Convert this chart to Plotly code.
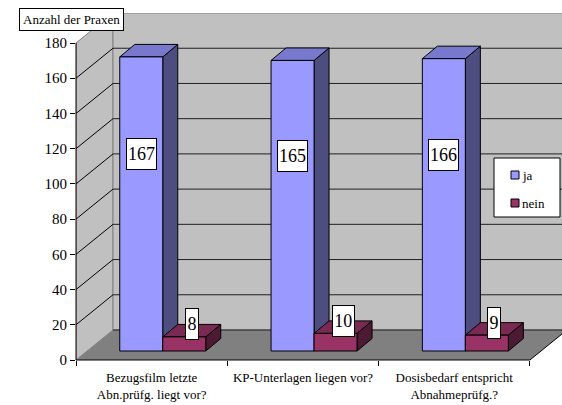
import plotly.graph_objects as go

# ---------------- data ----------------
categories = ["Bezugsfilm letzte<br>Abn.prüfg. liegt vor?",
              "KP-Unterlagen liegen vor?",
              "Dosisbedarf entspricht<br>Abnahmeprüfg.?"]
series_names = ["ja", "nein"]
ja_values = [167, 165, 166]
nein_values = [8, 10, 9]
y_ticks = [0, 20, 40, 60, 80, 100, 120, 140, 160, 180]
axis_title = "Anzahl der Praxen"

# ---------------- geometry / style ----------------
W, H = 562, 405
ML, MR, MT, MB = 76, 0, 13, 45
PW, PH = W - ML - MR, H - MT - MB
PX_PER_X = 151.3
PX_PER_Y = 1.761
DEPTH_X = 37 / PX_PER_X
DEPTH_Y = 30 / PX_PER_Y
x_max = PW / PX_PER_X
y_max = PH / PX_PER_Y
ncat = len(categories)
ytop = max(y_ticks)

BAR_W = 43 / PX_PER_X
BAR_POS = 0.3
bar_base = BAR_POS * DEPTH_Y
shift = BAR_POS * DEPTH_X
BAR_DX = 15 / PX_PER_X
BAR_DY = 12.5 / PX_PER_Y

FONT = "'Liberation Serif', 'Times New Roman', 'DejaVu Serif', serif"
colors = {
    "ja": {"front": "#9999FF", "top": "#7878CC", "side": "#4D4D80"},
    "nein": {"front": "#993366", "top": "#7A2952", "side": "#4D1A33"},
}
WALL = "#C0C0C0"
FLOOR = "#808080"


def xp(px):
    return (px - ML) / PW


def yp(py):
    return (H - MB - py) / PH


ja_x = [i + 0.5 + shift - BAR_W / 2 for i in range(ncat)]
nein_x = [i + 0.5 + shift + BAR_W / 2 for i in range(ncat)]

fig = go.Figure()
shapes = []
annotations = []

# ---- walls ----
shapes.append(dict(type="path", xref="x", yref="y", layer="below",
                   path=f"M 0,0 L 0,{ytop} L {DEPTH_X},{ytop + DEPTH_Y} L {DEPTH_X},{DEPTH_Y} Z",
                   fillcolor=WALL, line=dict(color="#808080", width=1)))
shapes.append(dict(type="rect", xref="x", yref="y", layer="below",
                   x0=DEPTH_X, y0=DEPTH_Y, x1=ncat + DEPTH_X, y1=ytop + DEPTH_Y,
                   fillcolor=WALL, line=dict(color="#808080", width=1)))
shapes.append(dict(type="path", xref="x", yref="y", layer="below",
                   path=f"M 0,0 L {ncat},0 L {ncat + DEPTH_X},{DEPTH_Y} L {DEPTH_X},{DEPTH_Y} Z",
                   fillcolor=FLOOR, line=dict(width=0)))
# gridlines on side and back wall
for v in y_ticks[:-1]:
    if v > 0:
        shapes.append(dict(type="line", xref="x", yref="y", layer="below",
                           x0=0, y0=v, x1=DEPTH_X, y1=v + DEPTH_Y,
                           line=dict(color="black", width=1)))
    shapes.append(dict(type="line", xref="x", yref="y", layer="below",
                       x0=DEPTH_X, y0=v + DEPTH_Y, x1=ncat + DEPTH_X, y1=v + DEPTH_Y,
                       line=dict(color="#202020", width=1)))
# floor right edge
shapes.append(dict(type="line", xref="x", yref="y", layer="below",
                   x0=ncat, y0=0, x1=ncat + DEPTH_X, y1=DEPTH_Y,
                   line=dict(color="black", width=1)))

# ---- bars: 3D side/top faces ----
for i in range(ncat):
    for name, xs, vals in (("ja", ja_x, ja_values), ("nein", nein_x, nein_values)):
        x0 = xs[i] - BAR_W / 2
        x1 = xs[i] + BAR_W / 2
        b = bar_base
        t = bar_base + vals[i]
        c = colors[name]
        shapes.append(dict(type="path", xref="x", yref="y", layer="between",
                           path=f"M {x1},{b} L {x1},{t} L {x1 + BAR_DX},{t + BAR_DY} L {x1 + BAR_DX},{b + BAR_DY} Z",
                           fillcolor=c["side"], line=dict(color="black", width=1)))
        shapes.append(dict(type="path", xref="x", yref="y", layer="between",
                           path=f"M {x0},{t} L {x1},{t} L {x1 + BAR_DX},{t + BAR_DY} L {x0 + BAR_DX},{t + BAR_DY} Z",
                           fillcolor=c["top"], line=dict(color="black", width=1)))

# ---- bars: front faces ----
for name, xs, vals in (("ja", ja_x, ja_values), ("nein", nein_x, nein_values)):
    fig.add_trace(go.Bar(
        x=xs, y=vals, base=[bar_base] * ncat, width=BAR_W, name=name,
        marker=dict(color=colors[name]["front"], line=dict(color="black", width=1)),
        showlegend=False, hoverinfo="skip"))

# ---- data labels ----
LABEL_FONT = dict(family=FONT, size=18, color="black")
for i in range(ncat):
    txt = str(ja_values[i])
    annotations.append(dict(x=ja_x[i], y=bar_base + 0.67 * ja_values[i], xref="x", yref="y",
                            xanchor="center", yanchor="middle",
                            text=txt, showarrow=False, font=LABEL_FONT,
                            bgcolor="white", bordercolor="black", borderwidth=1, borderpad=1,
                            width=8.5 * len(txt) + 1.5, height=28))
    txt = str(nein_values[i])
    annotations.append(dict(x=nein_x[i] + BAR_DX / 2, y=bar_base + nein_values[i] + BAR_DY,
                            xref="x", yref="y", xanchor="center", yanchor="middle",
                            text=txt, showarrow=False, font=LABEL_FONT,
                            bgcolor="white", bordercolor="black", borderwidth=1, borderpad=1,
                            width=8.5 * len(txt) + 1.5, height=28))

# ---- axes lines ----
shapes.append(dict(type="line", xref="paper", yref="y", layer="above",
                   x0=0, x1=0, y0=0, y1=ytop, line=dict(color="black", width=1)))
shapes.append(dict(type="line", xref="x", yref="paper", layer="above",
                   x0=0, x1=ncat, y0=0, y1=0, line=dict(color="black", width=1)))

# ---- axis title box ----
annotations.append(dict(x=xp(71), y=yp(19.5), xref="paper", yref="paper",
                        xanchor="center", yanchor="middle",
                        text=axis_title, showarrow=False,
                        font=dict(family=FONT, size=13, color="black"),
                        bgcolor="white", bordercolor="black", borderwidth=1, borderpad=3))

# ---- legend (manual) ----
shapes.append(dict(type="rect", xref="paper", yref="paper", layer="above",
                   x0=xp(494), x1=xp(560), y0=yp(217), y1=yp(158),
                   fillcolor="white", line=dict(color="black", width=1)))
for k, name in enumerate(series_names):
    cy = 175 + 28 * k
    shapes.append(dict(type="rect", xref="paper", yref="paper", layer="above",
                       x0=xp(511), x1=xp(519), y0=yp(cy + 4), y1=yp(cy - 4),
                       fillcolor=colors[name]["front"], line=dict(color="black", width=1)))
    annotations.append(dict(x=xp(520), y=yp(cy), xref="paper", yref="paper",
                            xanchor="left", yanchor="middle", text=name, showarrow=False,
                            font=dict(family=FONT, size=13, color="black")))

fig.update_layout(
    width=W, height=H,
    margin=dict(l=ML, r=MR, t=MT, b=MB, pad=0),
    paper_bgcolor="white", plot_bgcolor="rgba(0,0,0,0)",
    barmode="overlay", showlegend=False,
    shapes=shapes, annotations=annotations,
    font=dict(family=FONT, color="black"),
    xaxis=dict(range=[0, x_max], tickvals=[i + 0.5 for i in range(ncat)], ticktext=categories,
               ticks="", showgrid=False, zeroline=False, showline=False,
               tickfont=dict(family=FONT, size=13, color="black"), ticklabelstandoff=8,
               minor=dict(tickvals=list(range(ncat + 1)), ticks="outside", ticklen=5,
                          tickcolor="black", tickwidth=1, showgrid=False),
               fixedrange=True),
    yaxis=dict(range=[0, y_max], tickvals=y_ticks, ticks="outside", ticklen=5,
               tickcolor="black", tickwidth=1, showgrid=False, zeroline=False, showline=False,
               tickfont=dict(family=FONT, size=15, color="black"), fixedrange=True),
)

fig.write_html("out.html")
